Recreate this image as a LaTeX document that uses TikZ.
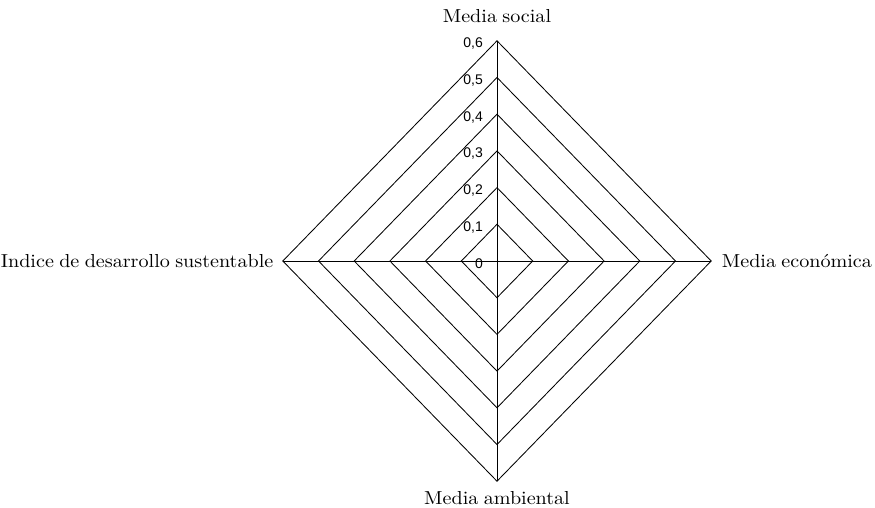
\documentclass[tikz,border=0pt]{standalone}
\usepackage{fontspec}
\newfontfamily\ticksf{Liberation Sans}
\newfontfamily\labfont{lmroman10-regular}[Extension=.otf,FakeStretch=1.07,WordSpace=0.8]
\begin{document}
\begin{tikzpicture}[x=1pt,y=-1pt,
  ring/.style={draw=black,line width=0.85pt,line join=miter},
  axisline/.style={draw=black,line width=0.85pt},
  tick/.style={inner sep=0pt,anchor=base east,font=\ticksf\fontsize{14}{16}\selectfont},
  axlabel/.style={inner sep=0pt,font=\labfont\fontsize{18.8}{22}\selectfont}]
\useasboundingbox (0,0) rectangle (875,508);
\coordinate (c) at (497,261);
\foreach \i in {1,...,6}{
  \coordinate (t\i) at (497,{261-\i*36.7});
  \coordinate (b\i) at (497,{261+\i*36.7});
  \coordinate (l\i) at ({497-\i*35.7},261);
  \coordinate (r\i) at ({497+\i*35.7},261);
  \draw[ring] (t\i) -- (r\i) -- (b\i) -- (l\i) -- cycle;
}
\draw[axisline] (t6) -- (b6);
\draw[axisline] (l6) -- (r6);
\node[tick] (k0) at (483,268) {0};
\foreach \i in {1,...,6}{
  \node[tick] (k\i) at (483,{268-\i*36.7}) {0,\i};
}
\node[axlabel,anchor=base] (ls) at (497,22.7) {Media social};
\node[axlabel,anchor=base] (la) at (497,504.5) {Media ambiental};
\node[axlabel,anchor=base west] (le) at (721.7,267.5) {Media económica};
\node[axlabel,anchor=base east] (li) at (273.5,267.5) {Indice de desarrollo sustentable};
\end{tikzpicture}
\end{document}
